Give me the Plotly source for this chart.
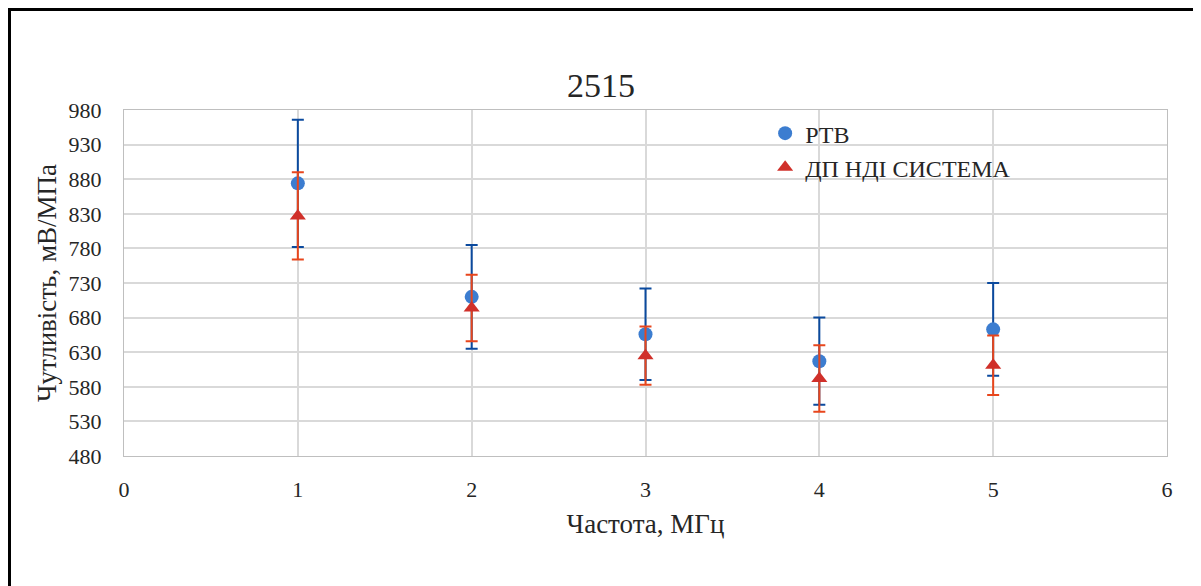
import plotly.graph_objects as go

freq = [1, 2, 3, 4, 5]
rtb_values = [874, 710, 656, 617, 663]
rtb_errors = [92, 75, 66, 63, 67]
sys_values = [827, 694, 625, 592, 611]
sys_errors = [63, 48, 42, 48, 43]

title_text = "2515"
x_title = "Частота, МГц"
y_title = "Чутливість, мВ/МПа"
series_names = ["РТВ", "ДП НДІ СИСТЕМА"]

font_family = "Liberation Serif"
OFF = 8  # page body margin offset

fig = go.Figure()
fig.add_trace(go.Scatter(
    x=freq, y=rtb_values, mode="markers", name=series_names[0],
    legendgroup="a",
    marker=dict(symbol="circle", size=14, color="#3C7DD0"),
    error_y=dict(type="data", array=rtb_errors, visible=True,
                 color="#0B4A9E", thickness=2, width=6),
))
fig.add_trace(go.Scatter(
    x=freq, y=sys_values, mode="markers", name=series_names[1],
    legendgroup="b",
    marker=dict(symbol="triangle-up", size=14, color="#D0302A"),
    error_y=dict(type="data", array=sys_errors, visible=True,
                 color="#E8461C", thickness=2, width=6),
))

fig.update_layout(
    width=1201, height=586,
    paper_bgcolor="white", plot_bgcolor="white",
    margin=dict(l=124 - OFF, r=34 + OFF, t=110 - OFF, b=130 + OFF),
    font=dict(family=font_family, size=22, color="#262626"),
    title=dict(text=title_text, x=(601 - OFF) / 1201, xanchor="center",
               y=1 - (85 - OFF) / 586, yanchor="middle",
               font=dict(size=34, family=font_family, color="#262626")),
    showlegend=True,
    legend=dict(x=0.6147, y=0.997, xanchor="left", yanchor="top",
                bgcolor="rgba(0,0,0,0)", font=dict(size=24, family=font_family, color="#262626"),
                traceorder="grouped", tracegroupgap=0, itemwidth=30),
    xaxis=dict(range=[0, 6], dtick=1, tick0=0, showgrid=True, gridcolor="#D9D9D9", gridwidth=2,
               zeroline=False, showline=True, linecolor="#BFBFBF", linewidth=1, mirror=True,
               ticks="", ticklabelstandoff=14,
               tickfont=dict(family=font_family, size=22),
               title=dict(text=x_title, font=dict(size=27, family=font_family), standoff=12)),
    yaxis=dict(range=[480, 980], dtick=50, tick0=480, showgrid=True, gridcolor="#D9D9D9", gridwidth=2,
               zeroline=False, showline=True, linecolor="#BFBFBF", linewidth=1, mirror=True,
               ticks="", ticklabelstandoff=17,
               tickfont=dict(family=font_family, size=22),
               title=dict(text=y_title, font=dict(size=27, family=font_family), standoff=4)),
)

# outer black frame (extends below the visible area like in the reference)
fig.add_shape(type="rect", xref="paper", yref="paper",
              x0=(9.5 - 124) / 1043, x1=(1195 - 124) / 1043,
              y0=(456 - 620) / 346, y1=(456 - 9.5) / 346,
              line=dict(color="black", width=3), fillcolor="rgba(0,0,0,0)", layer="above")

fig.write_html("out.html")
